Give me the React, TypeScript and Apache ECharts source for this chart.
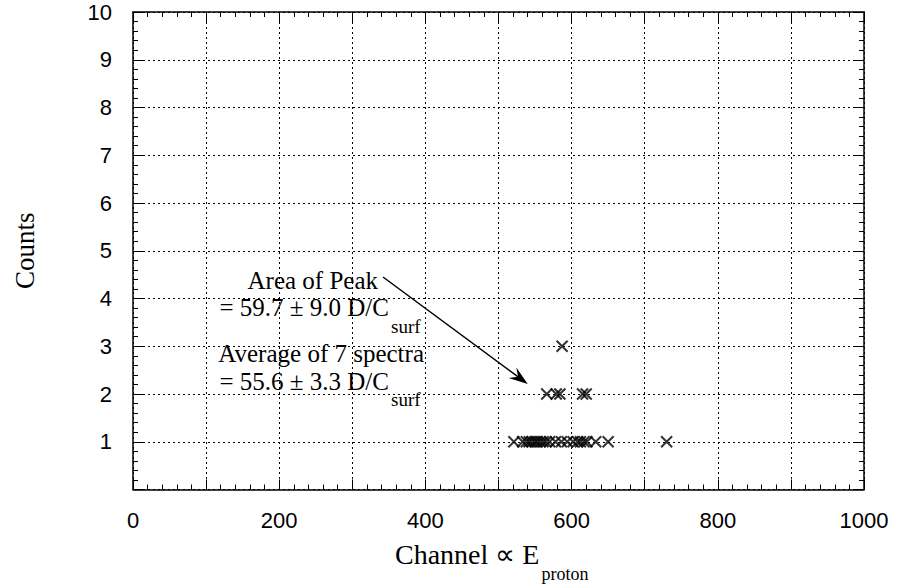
import React, { useEffect, useRef } from "react";
import * as echarts from "echarts";

// Channels of the recorded events, grouped by how many counts fell in each channel
const channelsWithOneCount = [
  521, 533, 538, 542, 546, 550, 553, 557, 561, 565, 570, 578, 586, 594, 602,
  608, 612, 617, 621, 633, 650, 730,
];
const channelsWithTwoCounts = [566, 579, 584, 615, 620];
const channelsWithThreeCounts = [587];

// Axis ranges and labelled ticks
const xRange = [0, 1000];
const yRange = [0, 10];
const xLabelledTicks = [0, 200, 400, 600, 800, 1000];
const yLabelledTicks = [1, 2, 3, 4, 5, 6, 7, 8, 9, 10];

// Annotation texts
const peakLabel = "Area of Peak";
const peakValue = "= 59.7 ± 9.0 D/C";
const averageLabel = "Average of 7 spectra";
const averageValue = "= 55.6 ± 3.3 D/C";
const subscriptSurf = "surf";
const xTitleMain = "Channel ∝ E";
const xTitleSub = "proton";
const yTitle = "Counts";

// Data point the arrow points at (channel, counts)
const arrowTip = [540, 2.21];

const SERIF = '"Liberation Serif", "Times New Roman", serif';
const SANS = '"Liberation Sans", Arial, sans-serif';

const CROSS = "path://M0,0L10,10M0,10L10,0";

function toPoints(channels: number[], count: number) {
  return channels.map((c) => [c, count]);
}

function frameAxis(extra: Record<string, unknown>) {
  return {
    type: "value",
    axisLine: { show: true, onZero: false, lineStyle: { color: "#000", width: 1.5 } },
    axisTick: { show: true, inside: true, length: 10, lineStyle: { color: "#000", width: 1 } },
    minorTick: { show: true, splitNumber: 5, length: 5, lineStyle: { color: "#000", width: 1 } },
    ...extra,
  };
}

function measure(str: string, font: string) {
  const ctx = document.createElement("canvas").getContext("2d");
  if (!ctx) return str.length * 10;
  ctx.font = font;
  return ctx.measureText(str).width;
}

const gridLine = { show: true, lineStyle: { color: "#000", width: 1, type: [2, 3] } };
const tickFont = { color: "#000", fontFamily: SANS, fontSize: 22 };

export default function App() {
  const ref = useRef<HTMLDivElement>(null);

  useEffect(() => {
    const chart = echarts.init(ref.current!, null, { renderer: "svg" });
    chart.setOption({
      animation: false,
      backgroundColor: "#fff",
      grid: { left: 133, top: 12, width: 731, height: 477.5 },
      xAxis: [
        frameAxis({
          position: "bottom",
          min: xRange[0],
          max: xRange[1],
          interval: 100,
          splitLine: gridLine,
          axisLabel: {
            ...tickFont,
            margin: 20,
            formatter: (v: number) => (xLabelledTicks.includes(v) ? String(v) : ""),
          },
        }),
        frameAxis({
          position: "top",
          min: xRange[0],
          max: xRange[1],
          interval: 100,
          splitLine: { show: false },
          axisLabel: { show: false },
        }),
      ],
      yAxis: [
        frameAxis({
          position: "left",
          min: yRange[0],
          max: yRange[1],
          interval: 1,
          splitLine: gridLine,
          axisLabel: {
            ...tickFont,
            margin: 21,
            formatter: (v: number) => (yLabelledTicks.includes(v) ? String(v) : ""),
          },
          name: yTitle,
          nameLocation: "middle",
          nameRotate: 90,
          nameGap: 95,
          nameTextStyle: { color: "#000", fontFamily: SERIF, fontSize: 27 },
        }),
        frameAxis({
          position: "right",
          min: yRange[0],
          max: yRange[1],
          interval: 1,
          splitLine: { show: false },
          axisLabel: { show: false },
        }),
      ],
      series: [1, 2, 3].map((count) => ({
        type: "scatter",
        xAxisIndex: 0,
        yAxisIndex: 0,
        symbol: CROSS,
        symbolSize: 11,
        itemStyle: { color: "transparent", borderColor: "#000", borderWidth: 2 },
        data:
          count === 1
            ? toPoints(channelsWithOneCount, 1)
            : count === 2
            ? toPoints(channelsWithTwoCounts, 2)
            : toPoints(channelsWithThreeCounts, 3),
      })),
    });

    // Arrow from the annotation to the peak
    const tip = chart.convertToPixel({ gridIndex: 0 }, arrowTip) as number[];
    const start = [383, 277];
    const dx = tip[0] - start[0];
    const dy = tip[1] - start[1];
    const len = Math.hypot(dx, dy);
    const ux = dx / len;
    const uy = dy / len;
    const nx = -uy;
    const ny = ux;
    const headLen = 19;
    const headHalf = 6.5;
    const back = [tip[0] - headLen * ux, tip[1] - headLen * uy];
    const notch = [tip[0] - 12 * ux, tip[1] - 12 * uy];

    const text = (
      str: string,
      x: number,
      y: number,
      size: number,
      align: string
    ) => ({
      type: "text",
      silent: true,
      style: {
        text: str,
        x,
        y,
        fill: "#000",
        font: `${size}px ${SERIF}`,
        align,
        verticalAlign: "bottom",
      },
    });

    // x-axis title: main text followed by its subscript
    const titleSize = 28;
    const titleLeft = 395;
    const titleWidth = measure(xTitleMain, `${titleSize}px ${SERIF}`);

    chart.setOption({
      graphic: [
        {
          type: "line",
          silent: true,
          shape: { x1: start[0], y1: start[1], x2: notch[0], y2: notch[1] },
          style: { stroke: "#000", lineWidth: 1.5 },
        },
        {
          type: "polygon",
          silent: true,
          shape: {
            points: [
              tip,
              [back[0] + headHalf * nx, back[1] + headHalf * ny],
              notch,
              [back[0] - headHalf * nx, back[1] - headHalf * ny],
            ],
          },
          style: { fill: "#000" },
        },
        text(peakLabel, 378, 293, 25, "right"),
        text(peakValue, 389, 320, 25, "right"),
        text(subscriptSurf, 391, 336, 19, "left"),
        text(averageLabel, 424, 366, 25, "right"),
        text(averageValue, 389, 394, 25, "right"),
        text(subscriptSurf, 391, 409, 19, "left"),
        text(xTitleMain, titleLeft, 568, titleSize, "left"),
        text(xTitleSub, titleLeft + titleWidth + 2, 583, 18, "left"),
      ],
    });

    return () => chart.dispose();
  }, []);

  return (
    <div
      ref={ref}
      style={{ position: "absolute", left: 0, top: 0, width: 901, height: 584, background: "#fff" }}
    />
  );
}
